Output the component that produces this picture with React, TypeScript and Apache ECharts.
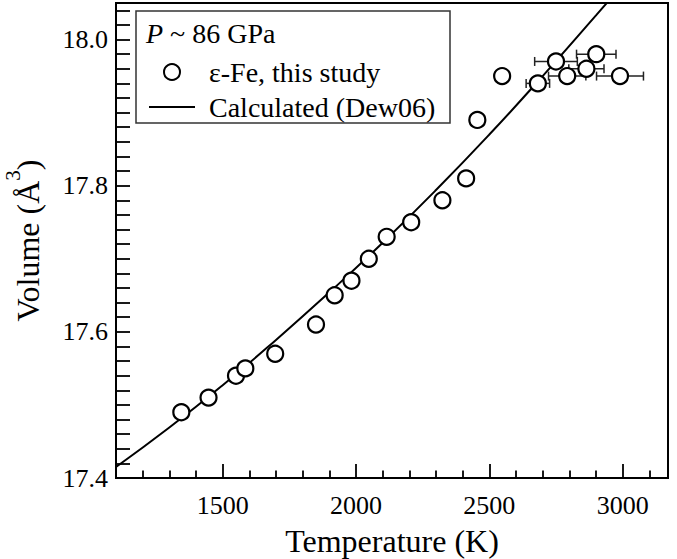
import React, { useEffect, useRef } from 'react';
import * as echarts from 'echarts';

const FONT = "'Liberation Serif', 'Times New Roman', Times, serif";

// measured ε-Fe points
const measuredTemperature = [1345, 1447, 1550, 1585, 1697, 1850, 1920, 1983, 2048, 2115, 2207, 2324, 2413, 2455, 2548, 2682, 2750, 2792, 2864, 2901, 2990];
const measuredVolume = [17.49, 17.51, 17.54, 17.55, 17.57, 17.61, 17.65, 17.67, 17.70, 17.73, 17.75, 17.78, 17.81, 17.89, 17.95, 17.94, 17.97, 17.95, 17.96, 17.98, 17.95];
const temperatureError = [0, 0, 0, 0, 0, 0, 0, 0, 0, 0, 0, 0, 0, 0, 0, 44, 80, 70, 66, 74, 88];

// calculated curve (Dew06)
const calcTemperature = [1100, 1300, 1500, 1700, 1900, 2100, 2300, 2500, 2700, 2900, 3000];
const calcVolume = [17.415, 17.469, 17.527, 17.589, 17.654, 17.722, 17.794, 17.87, 17.95, 18.033, 18.075];

const SCATTER_NAME = 'ε-Fe, this study';
const LINE_NAME = 'Calculated (Dew06)';

export default function App() {
  const ref = useRef<HTMLDivElement>(null);
  useEffect(() => {
    if (!ref.current) return;
    const chart = echarts.init(ref.current, null, { renderer: 'svg' });
    const scatterData = measuredTemperature.map((t, i) => [t, measuredVolume[i]]);
    const errData = measuredTemperature
      .map((t, i) => [t, measuredVolume[i], temperatureError[i]])
      .filter((d) => d[2] > 0);
    const lineData = calcTemperature.map((t, i) => [t, calcVolume[i]]);

    chart.setOption({
      animation: false,
      backgroundColor: '#fff',
      textStyle: { fontFamily: FONT, color: '#000' },
      grid: {
        left: 116, right: 9, top: 3, bottom: 81,
        show: true, borderColor: '#000', borderWidth: 2,
        outerBoundsMode: 'none',
      },
      legend: {
        data: [
          { name: SCATTER_NAME, icon: 'circle' },
          { name: LINE_NAME, icon: 'path://M0 0H46V2.2H0Z' },
        ],
        orient: 'vertical',
        left: 144,
        top: 53,
        itemWidth: 46,
        itemHeight: 16,
        itemGap: 7,
        selectedMode: false,
        textStyle: { fontFamily: FONT, fontSize: 28, color: '#000', padding: [0, 0, 0, 9] },
      },
      xAxis: {
        type: 'value',
        min: 1100,
        max: 3170,
        splitNumber: 4,
        name: 'Temperature (K)',
        nameLocation: 'middle',
        nameGap: 47,
        nameTextStyle: { fontFamily: FONT, fontSize: 32, color: '#000' },
        axisLine: { show: true, lineStyle: { color: '#000', width: 2 } },
        axisTick: { show: true, inside: true, length: 14, lineStyle: { color: '#000', width: 1.8 } },
        minorTick: { show: true, splitNumber: 5, length: 7.5, lineStyle: { color: '#000', width: 1.8 } },
        axisLabel: {
          fontFamily: FONT, fontSize: 26, color: '#000', margin: 14,
          showMinLabel: false, showMaxLabel: false,
          formatter: (v: number) => String(v),
        },
        splitLine: { show: false },
        minorSplitLine: { show: false },
      },
      yAxis: {
        type: 'value',
        min: 17.4,
        max: 18.05,
        interval: 0.2,
        name: '{m|Volume (Å}{s|3}{m|)}',
        nameLocation: 'middle',
        nameGap: 62,
        nameRotate: 90,
        nameTextStyle: {
          fontFamily: FONT, fontSize: 32, color: '#000',
          rich: {
            m: { fontFamily: FONT, fontSize: 32, color: '#000', lineHeight: 52, verticalAlign: 'middle' },
            s: { fontFamily: FONT, fontSize: 21, color: '#000', lineHeight: 20, verticalAlign: 'top' },
          },
        },
        axisLine: { show: true, lineStyle: { color: '#000', width: 2 } },
        axisTick: { show: true, inside: true, length: 14, lineStyle: { color: '#000', width: 1.8 } },
        minorTick: { show: true, splitNumber: 10, length: 14, lineStyle: { color: '#000', width: 1.8 } },
        axisLabel: {
          fontFamily: FONT, fontSize: 26, color: '#000', margin: 8,
          formatter: (v: number) => v.toFixed(1),
          showMaxLabel: false,
        },
        splitLine: { show: false },
        minorSplitLine: { show: false },
      },
      graphic: [
        {
          type: 'rect',
          shape: { x: 136, y: 11, width: 314, height: 112 },
          style: { fill: 'none', stroke: '#333', lineWidth: 1.5 },
          z: 10,
        },
        {
          type: 'text',
          x: 146,
          y: 33,
          style: {
            text: '{i|P} ~ 86 GPa',
            fontFamily: FONT,
            fontSize: 28,
            fill: '#000',
            verticalAlign: 'middle',
            rich: {
              i: { fontFamily: FONT, fontSize: 28, fontStyle: 'italic', fill: '#000', color: '#000' },
            },
          },
          z: 10,
        },
      ],
      series: [
        {
          type: 'line',
          name: LINE_NAME,
          data: lineData,
          symbol: 'none',
          showSymbol: false,
          smooth: true,
          clip: true,
          lineStyle: { color: '#000', width: 2 },
          itemStyle: { color: '#000' },
          z: 2,
        },
        {
          type: 'custom',
          name: 'errors',
          data: errData,
          encode: { x: 0, y: 1 },
          z: 3,
          renderItem: (params: any, api: any) => {
            const t = api.value(0);
            const v = api.value(1);
            const e = api.value(2);
            const l = api.coord([t - e, v]);
            const r = api.coord([t + e, v]);
            const h = 4.5;
            const st = { stroke: '#222', lineWidth: 1.5 };
            return {
              type: 'group',
              children: [
                { type: 'line', shape: { x1: l[0], y1: l[1], x2: r[0], y2: r[1] }, style: st },
                { type: 'line', shape: { x1: l[0], y1: l[1] - h, x2: l[0], y2: l[1] + h }, style: st },
                { type: 'line', shape: { x1: r[0], y1: r[1] - h, x2: r[0], y2: r[1] + h }, style: st },
              ],
            };
          },
        },
        {
          type: 'scatter',
          name: SCATTER_NAME,
          data: scatterData,
          symbol: 'circle',
          symbolSize: 16,
          itemStyle: { color: '#fff', borderColor: '#000', borderWidth: 2.2, opacity: 1 },
          z: 4,
        },
      ],
    });
    return () => chart.dispose();
  }, []);
  return (
    <div
      ref={ref}
      style={{ position: 'fixed', left: 0, top: 0, width: 677, height: 559, background: '#fff' }}
    />
  );
}
